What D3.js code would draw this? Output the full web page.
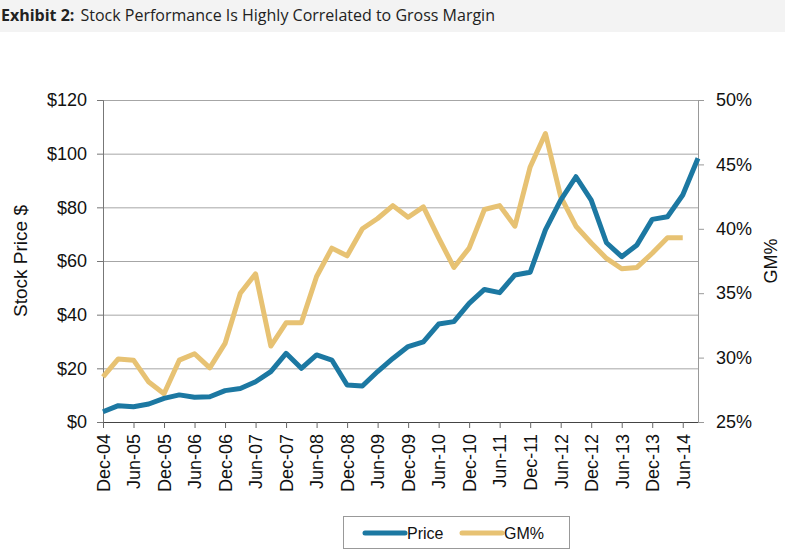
<!DOCTYPE html>
<html><head><meta charset="utf-8">
<script src="https://cdn.jsdelivr.net/npm/d3@7"></script>
<style>body{margin:0;background:#fff;} svg{display:block;}</style>
</head><body>
<svg id="c" width="785" height="558"></svg>
<script>
const quarters = ["Dec-04","Mar-05","Jun-05","Sep-05","Dec-05","Mar-06","Jun-06","Sep-06","Dec-06","Mar-07",
"Jun-07","Sep-07","Dec-07","Mar-08","Jun-08","Sep-08","Dec-08","Mar-09","Jun-09","Sep-09",
"Dec-09","Mar-10","Jun-10","Sep-10","Dec-10","Mar-11","Jun-11","Sep-11","Dec-11","Mar-12",
"Jun-12","Sep-12","Dec-12","Mar-13","Jun-13","Sep-13","Dec-13","Mar-14","Jun-14","Sep-14"];
const price = [3.8,6.1,5.7,6.7,8.8,10.1,9.2,9.4,11.7,12.5,
15,18.8,25.6,20,25,23.1,13.8,13.4,18.8,23.7,
28.1,29.9,36.5,37.4,44.2,49.4,48.2,54.8,55.8,71.6,
82.7,91.4,82.7,66.8,61.6,66,75.5,76.5,84.6,98.3];
const gm = [28.5,29.9,29.8,28.1,27.2,29.8,30.3,29.2,31.1,35.0,
36.5,30.9,32.7,32.7,36.3,38.5,37.9,40.0,40.8,41.8,
40.9,41.7,39.3,37.0,38.5,41.5,41.8,40.2,44.8,47.4,
42.5,40.2,38.9,37.7,36.9,37.0,38.1,39.3,39.3,null];
const xTickLabels = ["Dec-04","Jun-05","Dec-05","Jun-06","Dec-06","Jun-07","Dec-07","Jun-08","Dec-08","Jun-09",
"Dec-09","Jun-10","Dec-10","Jun-11","Dec-11","Jun-12","Dec-12","Jun-13","Dec-13","Jun-14"];
const leftTicks = [0,20,40,60,80,100,120];
const rightTicks = [25,30,35,40,45,50];

const svg = d3.select("#c");
const L = 103, R = 698, T = 100, B = 422;
const blue = "#1c78a2", gold = "#e7c273";

svg.append("rect").attr("x",0).attr("y",0).attr("width",785).attr("height",32).attr("fill","#f3f3f3");
const title = svg.append("text").attr("x",1).attr("y",21).attr("font-family","Open Sans").attr("font-size",16).attr("fill","#222");
title.append("tspan").attr("font-weight","bold").text("Exhibit 2:");
title.append("tspan").attr("dx",6).text("Stock Performance Is Highly Correlated to Gross Margin");

const x = d3.scalePoint().domain(quarters).range([L, R]);
const yL = d3.scaleLinear().domain([0,120]).range([B, T]);
const yR = d3.scaleLinear().domain([25,50]).range([B, T]);

// gridlines
svg.append("g").selectAll("line").data(leftTicks.slice(1)).join("line")
  .attr("x1",L).attr("x2",R).attr("y1",d=>yL(d)+0.5).attr("y2",d=>yL(d)+0.5)
  .attr("stroke","#a6a6a6").attr("stroke-width",1);

// left axis
const gl = svg.append("g").attr("transform",`translate(${L},0)`)
  .call(d3.axisLeft(yL).tickValues(leftTicks).tickFormat(d=>"$"+d).tickSize(6).tickPadding(10));
gl.select(".domain").attr("stroke","#777");
gl.selectAll(".tick line").attr("stroke","#777");
gl.selectAll("text").attr("font-family","Liberation Sans, Arial").attr("font-size",18).attr("fill","#111");

// right axis
const gr = svg.append("g").attr("transform",`translate(${R},0)`)
  .call(d3.axisRight(yR).tickValues(rightTicks).tickFormat(d=>d+"%").tickSize(6).tickPadding(12));
gr.select(".domain").attr("stroke","#999");
gr.selectAll(".tick line").attr("stroke","#999");
gr.selectAll("text").attr("font-family","Liberation Sans, Arial").attr("font-size",18).attr("fill","#111");

// bottom axis
const gb = svg.append("g").attr("transform",`translate(0,${B})`)
  .call(d3.axisBottom(x).tickValues(xTickLabels).tickSize(6).tickSizeOuter(0));
gb.select(".domain").attr("stroke","#444").attr("d",`M${L},0.5H${R}`);
gb.selectAll(".tick line").attr("stroke","#666");
gb.selectAll("text").attr("font-family","Liberation Sans, Arial").attr("font-size",18).attr("fill","#111")
  .attr("transform","rotate(-90)").attr("text-anchor","end").attr("x",-12).attr("y",0).attr("dy","0.35em");

// lines
const lineP = d3.line().x((d,i)=>x(quarters[i])).y(d=>yL(d));
const lineG = d3.line().defined(d=>d!=null).x((d,i)=>x(quarters[i])).y(d=>yR(d));
svg.append("path").datum(gm).attr("d",lineG).attr("fill","none").attr("stroke",gold).attr("stroke-width",5).attr("stroke-linejoin","round");
svg.append("path").datum(price).attr("d",lineP).attr("fill","none").attr("stroke",blue).attr("stroke-width",5).attr("stroke-linejoin","round");

// axis titles
svg.append("text").attr("transform","translate(27,261) rotate(-90)").attr("text-anchor","middle")
  .attr("font-family","Liberation Sans, Arial").attr("font-size",19).attr("fill","#111").text("Stock Price $");
svg.append("text").attr("transform","translate(777,261) rotate(-90)").attr("text-anchor","middle")
  .attr("font-family","Liberation Sans, Arial").attr("font-size",18).attr("fill","#111").text("GM%");

// legend
const lg = svg.append("g");
lg.append("rect").attr("x",343.5).attr("y",516.5).attr("width",226).attr("height",32).attr("fill","#fff").attr("stroke","#999");
const items = [{name:"Price",c:blue,x:365},{name:"GM%",c:gold,x:462}];
items.forEach(it=>{
  lg.append("line").attr("x1",it.x).attr("x2",it.x+40).attr("y1",533).attr("y2",533).attr("stroke",it.c).attr("stroke-width",5).attr("stroke-linecap","round");
  lg.append("text").attr("x",it.x+42).attr("y",539).attr("font-family","Liberation Sans, Arial").attr("font-size",16).attr("fill","#111").text(it.name);
});
</script>
</body></html>
